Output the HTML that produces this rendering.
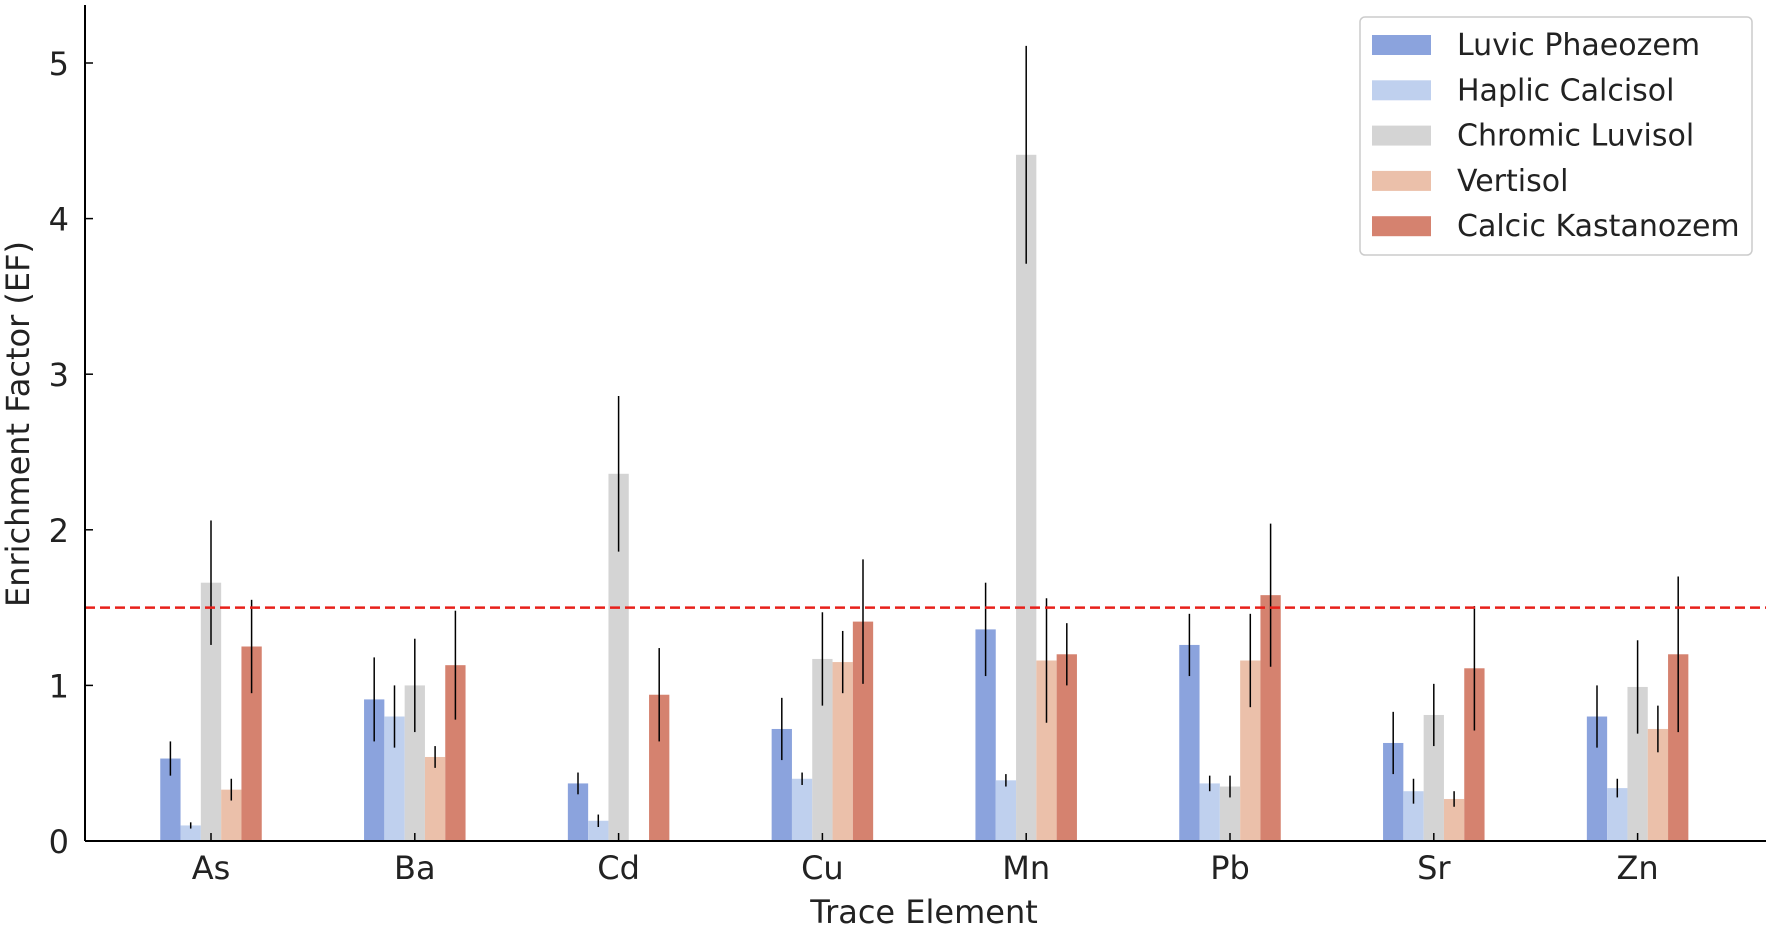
<!DOCTYPE html>
<html><head><meta charset="utf-8"><style>
body{margin:0;background:#fff;}
svg{display:block;font-family:"DejaVu Sans","Liberation Sans",sans-serif;}
</style></head><body>
<svg id="chart" width="1772" height="930"></svg>
<script>
const categories=["As","Ba","Cd","Cu","Mn","Pb","Sr","Zn"];
const seriesNames=["Luvic Phaeozem","Haplic Calcisol","Chromic Luvisol","Vertisol","Calcic Kastanozem"];
const luvic=[0.53,0.91,0.37,0.72,1.36,1.26,0.63,0.80];
const luvicErr=[0.11,0.27,0.07,0.20,0.30,0.20,0.20,0.20];
const haplic=[0.10,0.80,0.13,0.40,0.39,0.37,0.32,0.34];
const haplicErr=[0.02,0.20,0.04,0.04,0.04,0.05,0.08,0.06];
const chromic=[1.66,1.00,2.36,1.17,4.41,0.35,0.81,0.99];
const chromicErr=[0.40,0.30,0.50,0.30,0.70,0.07,0.20,0.30];
const vertisol=[0.33,0.54,0,1.15,1.16,1.16,0.27,0.72];
const vertisolErr=[0.07,0.07,0,0.20,0.40,0.30,0.05,0.15];
const kastanozem=[1.25,1.13,0.94,1.41,1.20,1.58,1.11,1.20];
const kastanozemErr=[0.30,0.35,0.30,0.40,0.20,0.46,0.40,0.50];
const yTicks=[0,1,2,3,4,5];
const threshold=1.5;
const colors=["#8ba3dd","#bfd0ee","#d4d4d4","#ebc0aa","#d5826f"];
const series=[luvic,haplic,chromic,vertisol,kastanozem];
const errs=[luvicErr,haplicErr,chromicErr,vertisolErr,kastanozemErr];

const NS="http://www.w3.org/2000/svg";
const svg=document.getElementById('chart');
const X0=85,X1=1766,Y0=841,Y5=63;
const y=v=>Y0-(Y0-Y5)*v/5;
const gx=i=>211+i*203.8;
const BW=20.3;
function el(t,a,p){const e=document.createElementNS(NS,t);for(const k in a)e.setAttribute(k,a[k]);(p||svg).appendChild(e);return e;}

for(let s=0;s<series.length;s++){
  for(let i=0;i<categories.length;i++){
    const cx=gx(i)+(s-2)*BW, v=series[s][i], e=errs[s][i];
    const r=el('rect',{x:cx-BW/2,y:y(v),width:BW,height:Y0-y(v),fill:colors[s]});
    
    
    const l=el('line',{x1:cx,x2:cx,y1:y(v+e),y2:y(Math.max(0,v-e)),stroke:'#000','stroke-width':1.5});
    
    
  }
}
const th=el('line',{x1:X0,x2:X1,y1:y(threshold),y2:y(threshold),stroke:'#e8201a','stroke-width':2.5,'stroke-dasharray':'10,5'});



const ax=el('line',{x1:X0,x2:X0,y1:5,y2:Y0,stroke:'#000','stroke-width':2});


const bx=el('line',{x1:X0,x2:X1,y1:Y0,y2:Y0,stroke:'#000','stroke-width':2});



yTicks.forEach(t=>{
  el('line',{x1:X0,x2:X0+8,y1:y(t),y2:y(t),stroke:'#000','stroke-width':1.5});
  const tx=el('text',{x:X0-16,y:y(t)+12,'text-anchor':'end','font-size':32,fill:'#222'});
  tx.textContent=t;
  
  
});
categories.forEach((c,i)=>{
  el('line',{x1:gx(i),x2:gx(i),y1:Y0,y2:Y0-8,stroke:'#000','stroke-width':1.5});
  const tx=el('text',{x:gx(i),y:879,'text-anchor':'middle','font-size':32,fill:'#222'});
  tx.textContent=c;
  
  
});
const xt=el('text',{x:924,y:923,'text-anchor':'middle','font-size':32,fill:'#222'});
xt.textContent='Trace Element';


const yt=el('text',{x:0,y:0,'text-anchor':'middle','font-size':32,fill:'#222',transform:'translate(29,424) rotate(-90)'});
yt.textContent='Enrichment Factor (EF)';



const lg=el('g',{});


el('rect',{x:1360,y:17,width:392,height:238,rx:5,fill:'#fff',stroke:'#ccc','stroke-width':1.5},lg);
seriesNames.forEach((n,s)=>{
  const cy=45+s*45.3;
  el('rect',{x:1372,y:cy-10,width:59,height:20,fill:colors[s]},lg);
  const t=el('text',{x:1457,y:cy+10,'font-size':30,fill:'#222'},lg);
  t.textContent=n;
  
  
});
</script>
</body></html>
